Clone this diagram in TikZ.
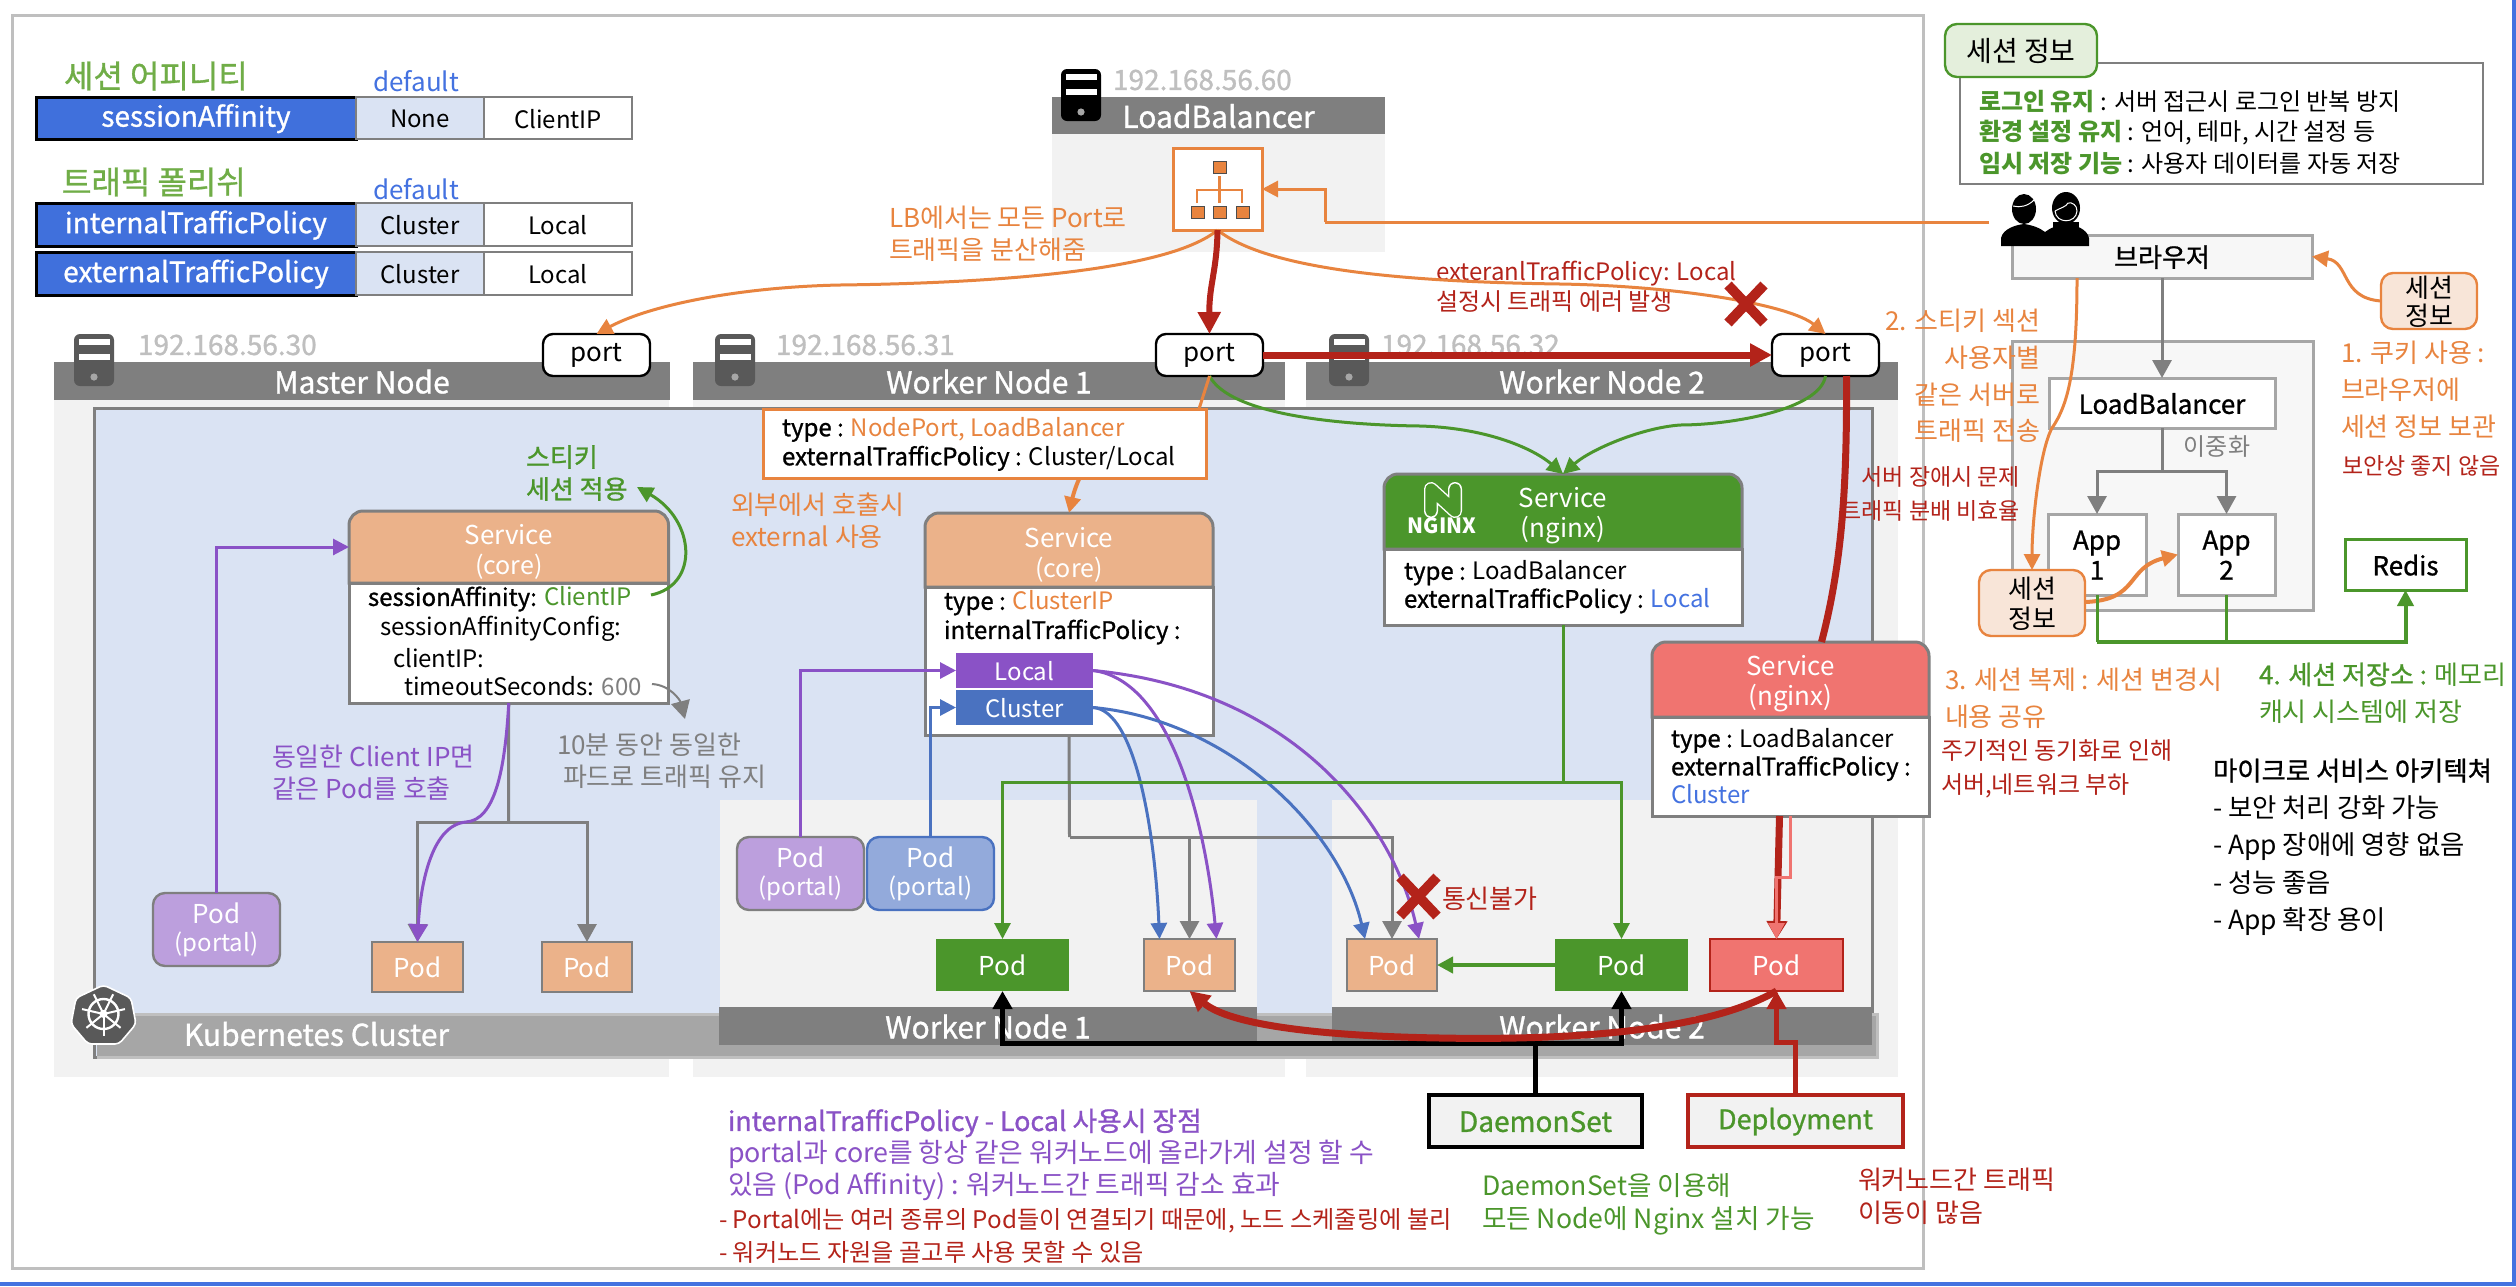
\documentclass[tikz,border=0pt]{standalone}
\usepackage{fontspec}
\usetikzlibrary{arrows.meta,calc}
\setmainfont{Noto Sans CJK KR}
\newfontfamily\medf[FakeBold=1]{Noto Sans CJK KR}
\definecolor{titlegreen}{HTML}{70AD47}
\definecolor{defblue}{HTML}{4472E0}
\definecolor{royal}{HTML}{4070DC}
\definecolor{pale}{HTML}{DAE3F3}
\definecolor{gr7}{HTML}{7F7F7F}
\definecolor{grA}{HTML}{A6A6A6}
\definecolor{grB}{HTML}{BFBFBF}
\definecolor{lite}{HTML}{F2F2F2}
\definecolor{lite2}{HTML}{F7F7F7}
\definecolor{gn}{HTML}{4B962B}
\definecolor{og}{HTML}{E8843F}
\definecolor{pu}{HTML}{8A52C6}
\definecolor{bl}{HTML}{4A72C0}
\definecolor{rd}{HTML}{B3231A}
\definecolor{salmon}{HTML}{EBB28A}
\definecolor{pink}{HTML}{F07470}
\definecolor{lav}{HTML}{BC9FDD}
\definecolor{blp}{HTML}{93AADB}
\definecolor{chip}{HTML}{F8E5D8}
\definecolor{tabg}{HTML}{E4EFDC}
\tikzset{
  fs/.style 2 args={font=\fontsize{#1}{#2}\selectfont},
  txt/.style={inner sep=0pt,outer sep=0pt,align=left},
  svctitle/.style={inner sep=0pt,outer sep=0pt,align=center,text=white,fs={13}{16}},
  tipS/.style={-{Triangle[length=9pt,width=9.5pt]}},
  tipM/.style={-{Triangle[length=8pt,width=8pt]}},
  conn/.style={line width=1.5pt},
  hdr/.style={fill=gr7,text=white,fs={15}{18},execute at begin node={\medf}},
  podbox/.style={fs={13}{16},text=white},
  namecell/.style={fill=royal,draw=black,line width=1.5pt,text=white,fs={14}{16},execute at begin node={\medf}},
  tcell/.style={draw=gr7,line width=1.2pt,fs={12}{15}},
  portbox/.style={fill=white,draw=black,line width=1.2pt,rounded corners=5pt,fs={13}{16}},
  portalbox/.style={line width=1.2pt,rounded corners=6pt,text=white,fs={13}{15}},
  ipaddr/.style={txt,fs={14}{16},text=grB,anchor=west,execute at begin node={\medf}},
  archbox/.style={fill=white,draw=grA,line width=1.5pt,fs={13}{15},execute at begin node={\medf}},
  crossx/.style={draw=rd,line width=5pt},
}
% box from corners (pixel units): an empty shaped node and its label
\newcommand{\bx}[7]{%
  \pgfmathsetmacro\bxw{(#4-#2)*0.5}%
  \pgfmathsetmacro\bxh{(#5-#3)*0.5}%
  \pgfmathsetmacro\bxcx{(#2+#4)/2}%
  \pgfmathsetmacro\bxcy{(#3+#5)/2}%
  \node[inner sep=0pt,outer sep=0pt,minimum width=\bxw pt,minimum height=\bxh pt,#6] (#1) at (\bxcx,\bxcy) {};
  \node[inner sep=0pt,outer sep=0pt,align=center,#6,draw=none,fill=none,yshift=-0.3pt] (#1-label) at (\bxcx,\bxcy) {#7};}
\newcommand{\srv}[3]{%
  \fill[#3,rounded corners=3pt] (#1,#2) rectangle ++(40,52);
  \fill[white] (#1+5,#2+5) rectangle ++(31,6);
  \fill[white] (#1+5,#2+20) rectangle ++(31,6);
  \fill[grA] (#1+20,#2+43) circle (1.8pt);}
\newcommand{\svchead}[6]{% x1 y1 x2 y2 colour outline
  \path[fill=#5,draw=#6,line width=1.5pt] (#1,#4) [rounded corners=7pt] -- (#1,#2) -- (#3,#2) [sharp corners] -- (#3,#4) -- cycle;}
\begin{document}
\begin{tikzpicture}[x=0.5pt,y=-0.5pt]
\useasboundingbox (0,0) rectangle (2516,1286);
\fill[white] (0,0) rectangle (2516,1286);
% frame and window edges
\draw[grB,line width=1.5pt] (12,15) rectangle (1923,1268);
\fill[defblue] (0,1282) rectangle (2516,1286);
\fill[defblue] (2512,0) rectangle (2516,1286);

% option tables
\node[txt,fs={16}{19},text=titlegreen,anchor=west] (titleA) at (64,76) {\medf 세션 어피니티};
\node[txt,fs={13}{16},text=defblue,anchor=center] (defA) at (416,81) {default};
\bx{saN}{36}{97}{356}{139}{namecell}{sessionAffinity}
\bx{saA}{356}{97}{484}{139}{tcell,fill=pale}{None}
\bx{saB}{484}{97}{632}{139}{tcell,fill=white}{ClientIP}
\node[txt,fs={16}{19},text=titlegreen,anchor=west] (titleB) at (62,182) {\medf 트래픽 폴리쉬};
\node[txt,fs={13}{16},text=defblue,anchor=center] (defB) at (416,189) {default};
\bx{itN}{36}{203}{356}{246}{namecell}{internalTrafficPolicy}
\bx{itA}{356}{203}{484}{246}{tcell,fill=pale}{Cluster}
\bx{itB}{484}{203}{632}{246}{tcell,fill=white}{Local}
\bx{etN}{36}{252}{356}{295}{namecell}{externalTrafficPolicy}
\bx{etA}{356}{252}{484}{295}{tcell,fill=pale}{Cluster}
\bx{etB}{484}{252}{632}{295}{tcell,fill=white}{Local}

% load balancer panel
\fill[lite] (1052,134) rectangle (1385,252);
\bx{lbHead}{1052}{97}{1385}{134}{hdr}{LoadBalancer}
\srv{1061}{69}{black}
\node[ipaddr] (ipLB) at (1113,80) {192.168.56.60};
\bx{lb}{1173}{148}{1262}{230}{fill=white,draw=og,line width=1.5pt}{}
% lb glyph
\foreach \x in {1191,1213,1236}{\draw[fill=og,draw=black!70,line width=.4pt] (\x,206) rectangle ++(13,12);}
\draw[fill=og,draw=black!70,line width=.4pt] (1213,161) rectangle ++(13,12);
\draw[og,line width=1.2pt] (1219.5,176) -- (1219.5,203);
\draw[og,line width=1.2pt] (1197,203) -- (1197,190) -- (1242,190) -- (1242,203);

% node panels (upper)
\fill[lite] (54,400) rectangle (669,1077);
\fill[lite] (693,400) rectangle (1285,1077);
\fill[lite] (1306,400) rectangle (1898,1077);
\bx{hdrM}{54}{362}{670}{400}{hdr}{Master Node}
\bx{hdrW1}{693}{362}{1285}{400}{hdr}{Worker Node 1}
\bx{hdrW2}{1306}{362}{1898}{400}{hdr}{Worker Node 2}
\srv{74}{334}{black!65}
\srv{715}{334}{black!65}
\srv{1329}{334}{black!65}
\node[ipaddr] (ipM) at (138,345) {192.168.56.30};
\node[ipaddr] (ipA) at (776,345) {192.168.56.31};
\node[ipaddr] (ipB) at (1381,345) {192.168.56.32};

% cluster
\draw[fill=pale,draw=gr7,line width=1.5pt] (94,408) rectangle (1872,1057);
\fill[grA] (97,1014) rectangle (1877,1057);
\draw[grB,line width=1.5pt] (97,1014) -- (1877,1014) -- (1877,1057) -- (97,1057);
\node[txt,fs={15}{18},text=white,anchor=west] (k8s) at (184,1034) {\medf Kubernetes Cluster};
% lower node panels
\fill[lite] (720,800) rectangle (1257,1007);
\fill[lite] (1332,800) rectangle (1872,1007);
\draw[gr7,line width=1pt] (1872,800) -- (1872,1007);
\bx{hdrL1}{719}{1007}{1257}{1045}{hdr}{Worker Node 1}
\bx{hdrL2}{1332}{1007}{1872}{1045}{hdr}{Worker Node 2}
% kubernetes wheel
\path[fill=black!65,draw=white,line width=.8pt,rounded corners=2pt] (103.5,985) -- (131,998) -- (136,1024) -- (119,1044) -- (88,1044) -- (71,1024) -- (76,998) -- cycle;
\draw[white,line width=1.2pt] (103.5,1014) circle (7.5pt);
\fill[white] (103.5,1014) circle (2pt);
\foreach \a in {90,141,193,244,296,347,39}{\draw[white,line width=1pt] (103.5,1014) -- ++({\a}:22);}

% ports
\bx{port0}{543}{334}{650}{376}{portbox}{port}
\bx{port1}{1156}{334}{1263}{376}{portbox}{port}
\bx{port2}{1772}{334}{1879}{376}{portbox}{port}

% type box
\bx{typeBox}{763}{409}{1206}{478}{fill=white,draw=og,line width=1.5pt}{}
\node[txt,fs={12}{15},anchor=west] (typeT) at (782,444) {{\medf type :} \textcolor{og}{NodePort, LoadBalancer}\\[-.5pt]{\medf externalTrafficPolicy :} Cluster/Local};

% left service
\path[fill=white,draw=gr7,line width=1.5pt] (349,583) rectangle (668.5,703);
\svchead{349}{511}{668.5}{583}{salmon}{gr7}
\bx{svcAhead}{349}{511}{668.5}{583}{}{}
\node[svctitle] (svcAtitle) at ($(svcAhead.center)+(0,5)$) {Service\\[-1pt]{\fontsize{12.5}{15}\selectfont (core)}};
\bx{svcAbody}{349}{583}{668.5}{703}{}{}
\node[txt,fs={12}{15},anchor=west] (svcAa) at (368,599) {{\medf sessionAffinity:} \textcolor{gn}{ClientIP}};
\node[txt,fs={12}{15},anchor=west] (svcAb) at (380,629) {sessionAffinityConfig:};
\node[txt,fs={12}{15},anchor=west] (svcAc) at (393,658) {clientIP:};
\node[txt,fs={12}{15},anchor=west] (svcAd) at (404,686) {timeoutSeconds: \textcolor{gr7}{600}};
\coordinate (stickyEnd) at (637,487);
\node[txt,fs={13}{16},text=gn,anchor=west] (sticky) at (526,473) {\medf 스티키\\\medf 세션 적용};
\node[txt,fs={13}{16},text=gr7,anchor=west] (noteA) at (557,761) {10분 동안 동일한\\[0pt]\hspace{3pt}파드로 트래픽 유지};
\coordinate (noteAtop) at (685,719);
\node[txt,fs={13}{16},text=pu,anchor=west] (noteB) at (272,773) {동일한 Client IP면\\같은 Pod를 호출};

% centre service
\path[fill=white,draw=gr7,line width=1.5pt] (925,587) rectangle (1213,735);
\svchead{925}{513}{1213}{587}{salmon}{gr7}
\bx{svcBhead}{925}{513}{1213}{587}{}{}
\node[svctitle] (svcBtitle) at ($(svcBhead.center)+(0,5)$) {Service\\[-1pt]{\fontsize{12.5}{15}\selectfont (core)}};
\bx{svcBbody}{925}{587}{1213}{735}{}{}
\node[txt,fs={12}{15},anchor=west] (svcBa) at (944,603) {{\medf type :} \textcolor{og}{ClusterIP}};
\node[txt,fs={12}{15},anchor=west] (svcBb) at (944,632) {\medf internalTrafficPolicy :};
\bx{locBox}{956}{653}{1093}{688}{fill=pu,text=white,fs={12}{15}}{Local}
\bx{cluBox}{956}{690}{1093}{725}{fill=bl,text=white,fs={12}{15}}{Cluster}
\node[txt,fs={13}{16},text=og,anchor=west] (noteC) at (731,521) {외부에서 호출시\\external 사용};

% nginx service
\path[fill=white,draw=gr7,line width=1.5pt] (1384,549) rectangle (1742,625);
\svchead{1384}{474}{1742}{549}{gn}{gr7}
\bx{svcNhead}{1384}{474}{1742}{549}{}{}
\node[svctitle] (svcNtitle) at ($(svcNhead.center)+(0,4)$) {Service\\[-1pt](nginx)};
\bx{svcNbody}{1384}{549}{1742}{625}{}{}
\node[txt,fs={12}{14},anchor=west] (svcNa) at (1404,587) {{\medf type :} LoadBalancer\\{\medf externalTrafficPolicy :} \textcolor{defblue}{Local}};
% nginx logo
\draw[white,line width=7pt,line join=round,line cap=round] (1431,511) -- (1431,489) -- (1455,511) -- (1455,489);
\draw[gn,line width=5.6pt,line join=round,line cap=round] (1431,511) -- (1431,489) -- (1455,511) -- (1455,489);
\node[txt,fs={10.5}{12},text=white,anchor=center] (nginxLogo) at (1442,526) {\textbf{NGINX}};

% red service
\path[fill=white,draw=gr7,line width=1.5pt] (1652,717) rectangle (1929,816);
\svchead{1652}{642}{1929}{717}{pink}{gr7}
\bx{svcRhead}{1652}{642}{1929}{717}{}{}
\node[svctitle] (svcRtitle) at ($(svcRhead.center)+(0,4)$) {Service\\[-1pt](nginx)};
\bx{svcRbody}{1652}{717}{1929}{816}{}{}
\node[txt,fs={12}{14},anchor=west] (svcRa) at (1671,766) {{\medf type :} LoadBalancer\\{\medf externalTrafficPolicy :}\\\textcolor{defblue}{Cluster}};

% pods
\bx{podPL}{153}{893}{280}{966}{portalbox,fill=lav,draw=gr7}{Pod\\[-1pt]{\fontsize{12}{13}\selectfont (portal)}}
\bx{podA}{372}{942}{463}{992}{podbox,fill=salmon,draw=gr7,line width=1.2pt}{Pod}
\bx{podB}{542}{942}{632}{992}{podbox,fill=salmon,draw=gr7,line width=1.2pt}{Pod}
\bx{podPA}{737}{837}{864}{910}{portalbox,fill=lav,draw=gr7}{Pod\\[-1pt]{\fontsize{12}{13}\selectfont (portal)}}
\bx{podPB}{867}{837}{994}{910}{portalbox,fill=blp,draw=bl}{Pod\\[-1pt]{\fontsize{12}{13}\selectfont (portal)}}
\bx{podG1}{936}{939}{1069}{991}{podbox,fill=gn}{Pod}
\bx{podC}{1144}{939}{1235}{991}{podbox,fill=salmon,draw=gr7,line width=1.2pt}{Pod}
\bx{podD}{1347}{939}{1437}{991}{podbox,fill=salmon,draw=gr7,line width=1.2pt}{Pod}
\bx{podG2}{1555}{939}{1688}{991}{podbox,fill=gn}{Pod}
\bx{podR}{1710}{939}{1843}{991}{podbox,fill=pink,draw=rd,line width=1.2pt}{Pod}

% workloads
\bx{dset}{1429}{1095}{1642}{1147}{fill=lite,draw=black,line width=2pt,text=gn,fs={14}{16},execute at begin node={\medf}}{DaemonSet}
\bx{deploy}{1688}{1095}{1903}{1147}{fill=lite,draw=rd,line width=2pt,text=gn,fs={13.5}{16},execute at begin node={\medf}}{Deployment}

% session information panel
\bx{infoBox}{1960}{63}{2483}{184}{fill=white,draw=gr7,line width=1.2pt}{}
\bx{infoTab}{1945}{24}{2097}{77}{fill=tabg,draw=gn,line width=1.2pt,rounded corners=6pt,fs={14}{16}}{세션 정보}
\node[txt,fs={12}{15},anchor=west] (infoA) at (1979,102) {\textcolor{gn}{\textbf{로그인 유지}} : 서버 접근시 로그인 반복 방지};
\node[txt,fs={12}{15},anchor=west] (infoB) at (1979,133) {\textcolor{gn}{\textbf{환경 설정 유지}} : 언어, 테마, 시간 설정 등};
\node[txt,fs={12}{15},anchor=west] (infoC) at (1979,164) {\textcolor{gn}{\textbf{임시 저장 기능}} : 사용자 데이터를 자동 저장};

% architecture
\draw[fill=lite2,draw=grA,line width=1.5pt] (2012,341) rectangle (2313,610);
\bx{browser}{2012}{235}{2312}{278}{archbox,fill=lite2,fs={13}{16}}{브라우저}
\bx{alb}{2049}{378}{2275}{428}{archbox,fs={13}{16}}{LoadBalancer}
\node[txt,fs={12}{15},text=gr7,anchor=center] (dual) at (2217,447) {이중화};
\bx{app1}{2048}{514}{2146}{595}{archbox}{App\\1}
\bx{app2}{2178}{514}{2275}{595}{archbox}{App\\2}
\bx{redis}{2345}{539}{2466}{590}{archbox,draw=gn}{Redis}
\bx{chipA}{2381}{273}{2477}{329}{fill=chip,draw=og,line width=1.2pt,rounded corners=6pt,fs={13}{14}}{세션\\정보}
\bx{chipB}{1979}{570}{2085}{636}{fill=chip,draw=og,line width=1.2pt,rounded corners=6pt,fs={13}{15}}{세션\\정보}
% users icon
\fill[black] (2001,246) -- (2001,238) .. controls (2003,229) and (2015,225) .. (2024,224) .. controls (2032,225) and (2040,228) .. (2045,232) .. controls (2050,228) and (2058,225) .. (2066,224) .. controls (2076,225) and (2087,229) .. (2089,238) -- (2089,246) -- cycle;
\fill[black] (2024,209) ellipse (6pt and 7.5pt);
\fill[black] (2066,208) ellipse (7pt and 8pt);
\fill[black] (2053,222) rectangle (2079,228);
\draw[white,line width=.5pt] (2013,206) .. controls (2020,208) and (2028,206) .. (2034,200);
\draw[white,line width=.5pt] (2055,211) .. controls (2056,224) and (2076,224) .. (2077,211) .. controls (2077,205) and (2072,202) .. (2068,203) .. controls (2066,207) and (2060,208) .. (2055,211);

% notes
\node[txt,fs={13}{16},text=og,anchor=west] (noteLB) at (889,234) {LB에서는 모든 Port로\\트래픽을 분산해줌};
\node[txt,fs={12}{15},text=rd,anchor=west] (noteErr) at (1436,287) {exteranlTrafficPolicy: Local\\설정시 트래픽 에러 발생};
\node[txt,fs={13}{18.3},text=og,anchor=east,align=right] (note2) at (2040,376) {2. 스티키 섹션\\사용자별\\같은 서버로\\트래픽 전송};
\node[txt,fs={13}{18.5},text=og,anchor=west] (note1) at (2341,390) {1. 쿠키 사용 :\\브라우저에\\세션 정보 보관};
\node[txt,fs={11.5}{14},text=rd,anchor=west] (note1b) at (2342,466) {보안상 좋지 않음};
\node[txt,fs={11.5}{17},text=rd,anchor=east,align=right] (noteSrv) at (2020,494) {서버 장애시 문제\\트래픽 분배 비효율};
\node[txt,fs={13}{18.5},text=og,anchor=west] (note3) at (1945,698) {3. 세션 복제 : 세션 변경시\\내용 공유};
\node[txt,fs={12}{17},text=rd,anchor=west] (note3b) at (1941,769) {주기적인 동기화로 인해\\서버,네트워크 부하};
\node[txt,fs={13}{18.5},text=gn,anchor=west] (note4) at (2259,693) {{\medf 4. 세션 저장소 :} 메모리\\캐시 시스템에 저장};
\node[txt,fs={13.2}{18.6},anchor=west] (msa) at (2213,847) {{\medf 마이크로 서비스 아키텍쳐}\\- 보안 처리 강화 가능\\- App 장애에 영향 없음\\- 성능 좋음\\- App 확장 용이};
\node[txt,fs={13.4}{16},text=pu,anchor=west] (noteD) at (728,1155) {{\medf internalTrafficPolicy - Local 사용시 장점}\\portal과 core를 항상 같은 워커노드에 올라가게 설정 할 수\\있음 (Pod Affinity) : 워커노드간 트래픽 감소 효과};
\node[txt,fs={12.1}{16.5},text=rd,anchor=west] (noteE) at (719,1236) {- Portal에는 여러 종류의 Pod들이 연결되기 때문에, 노드 스케줄링에 불리\\- 워커노드 자원을 골고루 사용 못할 수 있음};
\node[txt,fs={13.3}{16.5},text=gn,anchor=west] (noteF) at (1482,1204) {DaemonSet을 이용해\\모든 Node에 Nginx 설치 가능};
\node[txt,fs={13}{16.5},text=rd,anchor=west] (noteG) at (1858,1196) {워커노드간 트래픽\\이동이 많음};
\node[txt,fs={13}{16},text=rd,anchor=west] (noteX) at (1442,899) {통신불가};

% ---- connectors ----
\coordinate (busA) at (508.5,822);
\coordinate (busB) at (1069.5,837);
\coordinate (busBr) at (1189.5,837);
\coordinate (busN) at (1563,782);
\coordinate (busK) at (1535.5,1043);
\coordinate (busD) at (1795.5,1042);
\coordinate (infoBr) at (1325,222);
\coordinate (userEnd) at (1989,222);
% gray trees
\draw[gr7,conn] (svcAbody.south) -- (busA);
\draw[gr7,conn,tipS] (busA) -| (podA.north);
\draw[gr7,conn,tipS] (busA) -| (podB.north);
\draw[gr7,conn] (svcBbody.south) -- (busB);
\draw[gr7,conn,tipS] (busB) -| (podD.north);
\draw[gr7,conn,tipS] (busBr) -- (podC.north);
\draw[gr7,line width=1pt,tipS] (652,684) .. controls (670,685) and (680,700) .. (noteAtop);
% purple
\draw[pu,conn,tipM] (podPL.north) |- (svcAhead.west);
\draw[pu,conn,tipS] (svcAbody.south) .. controls (505,770) and (495,820) .. (466,822) .. controls (430,825) and (420,890) .. (podA.north);
\draw[pu,conn,tipM] (podPA.north) |- (locBox.west);
\draw[pu,conn,tipM] (locBox.east) .. controls (1170,680) and (1205,820) .. ($(podC.north)+(27,0)$);
\draw[pu,conn,tipM] (locBox.east) .. controls (1300,690) and (1395,830) .. ($(podD.north)+(27,0)$);
% blue
\draw[bl,conn,tipM] (podPB.north) |- (cluBox.west);
\draw[bl,conn,tipM] (cluBox.east) .. controls (1135,710) and (1155,830) .. ($(podC.north)+(-30,0)$);
\draw[bl,conn,tipM] (cluBox.east) .. controls (1230,720) and (1340,830) .. ($(podD.north)+(-27,0)$);
% green
\draw[gn,conn,tipM] (port1.south) .. controls (1230,415) and (1340,425) .. (1420,426) .. controls (1490,428) and (1535,450) .. (svcNhead.north);
\draw[gn,conn,tipM] (port2.south) .. controls (1820,410) and (1730,425) .. (1680,425) .. controls (1640,428) and (1590,450) .. (svcNhead.north);
\draw[gn,conn] (svcNbody.south) -- (busN);
\draw[gn,conn,tipM] (busN) -| (podG1.north);
\draw[gn,conn,tipM] (busN) -| (podG2.north);
\draw[gn,line width=2pt,tipM] (podG2.west) -- (podD.east);
\draw[gn,conn,tipM] (651,595) .. controls (700,585) and (695,520) .. (stickyEnd);
% orange
\draw[og,conn,tipM] (lb.south) .. controls (1170,270) and (1000,283) .. (840,285) .. controls (740,287) and (650,305) .. (port0.north);
\draw[og,conn,tipM] (lb.south) .. controls (1270,272) and (1420,282) .. (1560,284) .. controls (1680,286) and (1790,305) .. (port2.north);
\draw[og,conn] (port1.south) -- ($(typeBox.north)+(214.5,0)$);
\draw[og,line width=2pt,tipM] ($(typeBox.south)+(95,0)$) .. controls (1074,490) and (1072,500) .. (svcBhead.north);
\draw[og,conn] (userEnd) -- (infoBr);
\draw[og,conn,tipM] (infoBr) |- (lb.east);
\draw[og,conn,tipM] (chipA.west) .. controls (2340,298) and (2350,262) .. (browser.east);
\draw[og,conn,tipM] (2077,278) .. controls (2077,370) and (2068,405) .. (2052,428) .. controls (2040,450) and (2032,520) .. (chipB.north);
\draw[og,line width=2pt,tipM] ($(chipB.east)+(0,-1)$) .. controls (2140,600) and (2125,568) .. (app2.west);
% architecture
\coordinate (albBus) at (2162,471);
\draw[gr7,conn,tipS] (browser.south) -- (alb.north);
\draw[gr7,conn] (alb.south) -- (albBus);
\draw[gr7,conn,tipS] (albBus) -| (app1.north);
\draw[gr7,conn,tipS] (albBus) -| (app2.north);
\coordinate (rBus) at (2097,642);
\draw[gn,line width=1.5pt] (app1.south) -- (rBus);
\draw[gn,line width=2pt,tipM] (rBus) -| (redis.south);
\draw[gn,line width=1.5pt] (app2.south) -- (app2.south |- rBus);
% red
\draw[rd,line width=3pt,-{Triangle[length=11pt,width=11pt]}] (lb.south) .. controls (1217,270) and (1209,285) .. (port1.north);
\draw[rd,line width=3.5pt,-{Triangle[length=11pt,width=11pt]}] (port1.east) -- (port2.west);
\draw[rd,line width=3.5pt] ($(port2.south)+(21,0)$) .. controls (1847,480) and (1843,560) .. ($(svcRhead.north)+(31,0)$);
\draw[rd,line width=3.5pt,-{Triangle[length=9pt,width=10pt]}] ($(svcRbody.south)+(-11,0)$) -- (podR.north);
\draw[pink,line width=1.5pt,tipM] (svcRbody.south) -- ($(svcRbody.south)+(0,61)$) -- ($(podR.north)+(0,-62)$) -- (podR.north);
\draw[black,line width=2.5pt] (dset.north) -- (busK);
\draw[black,line width=2.5pt,tipS] (busK) -| (podG1.south);
\draw[black,line width=2.5pt,tipS] (busK) -| (podG2.south);
\draw[rd,line width=3.5pt,-{Triangle[length=10pt,width=10pt]}] (podR.south) .. controls (1700,1035) and (1550,1040) .. (1440,1038) .. controls (1320,1036) and (1230,1025) .. (podC.south);
\draw[rd,line width=2.5pt,tipS] (deploy.north) -- (busD) -| (podR.south);
% crosses
\draw[crossx] (1728,285) -- (1764,323);
\draw[crossx] (1764,285) -- (1728,323);
\draw[crossx] (1400,877) -- (1437,916);
\draw[crossx] (1437,877) -- (1400,916);
\end{tikzpicture}
\end{document}
